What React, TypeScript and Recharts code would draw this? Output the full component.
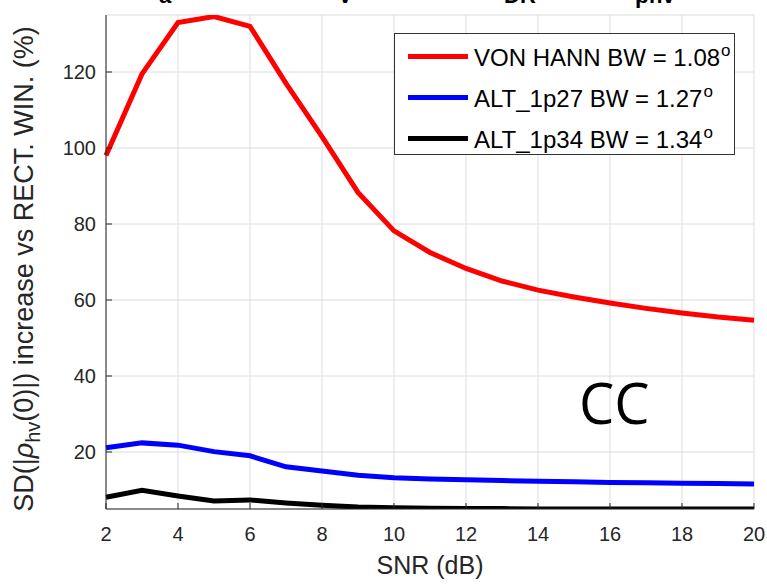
import React from "react";
import {
  LineChart,
  Line,
  XAxis,
  YAxis,
  CartesianGrid,
} from "recharts";

const snr = [2, 3, 4, 5, 6, 7, 8, 9, 10, 11, 12, 13, 14, 15, 16, 17, 18, 19, 20];
const vonHann = [98, 119.5, 133, 134.6, 132, 117, 103, 88.3, 78.2, 72.5, 68.3, 65, 62.6, 60.8, 59.2, 57.8, 56.6, 55.5, 54.7];
const alt1p27 = [21.1, 22.4, 21.8, 20.1, 19, 16.1, 15, 13.9, 13.2, 12.9, 12.7, 12.5, 12.3, 12.2, 12.0, 11.9, 11.8, 11.7, 11.6];
const alt1p34 = [8.1, 9.9, 8.4, 7.1, 7.4, 6.6, 6.0, 5.5, 5.3, 5.2, 5.1, 5.1, 5.0, 5.0, 5.0, 5.0, 5.0, 5.0, 5.0];

const xTicks = [2, 4, 6, 8, 10, 12, 14, 16, 18, 20];
const yTicks = [20, 40, 60, 80, 100, 120];
const topLabels = [
  { x: 165, text: "a" },
  { x: 345, text: "V" },
  { x: 520, text: "DR" },
  { x: 655, text: "ρhv" },
];

const seriesInfo = [
  { key: "vonHann", name: "VON HANN BW = 1.08", color: "#ff0000" },
  { key: "alt1p27", name: "ALT_1p27 BW = 1.27", color: "#0000ff" },
  { key: "alt1p34", name: "ALT_1p34 BW = 1.34", color: "#000000" },
];

const data = snr.map((s, i) => ({
  snr: s,
  vonHann: vonHann[i],
  alt1p27: alt1p27[i],
  alt1p34: alt1p34[i],
}));

const font = "Arial, 'Liberation Sans', Helvetica, sans-serif";
const tickStyle = { fill: "#262626", fontSize: 20, fontFamily: font };

function LegendBox() {
  return (
    <div
      style={{
        position: "absolute",
        left: 394,
        top: 33,
        width: 341,
        height: 122,
        boxSizing: "border-box",
        border: "1px solid #333",
        background: "#fff",
        padding: "2px 0 0 13px",
        fontFamily: font,
        fontSize: 24,
        color: "#000",
      }}
    >
      {seriesInfo.map((s) => (
        <div
          key={s.key}
          style={{ display: "flex", alignItems: "center", height: 41 }}
        >
          <div
            style={{
              width: 60,
              height: 5,
              background: s.color,
              marginRight: 6,
            }}
          />
          <span style={{ whiteSpace: "nowrap" }}>
            {s.name}
            <span style={{ fontSize: 17, verticalAlign: 10, marginLeft: 1 }}>o</span>
          </span>
        </div>
      ))}
    </div>
  );
}

function YLabel() {
  return (
    <text
      transform="translate(33, 269) rotate(-90)"
      textAnchor="middle"
      fontFamily={font}
      fontSize={27}
      fill="#262626"
    >
      SD(|
      <tspan fontStyle="italic">ρ</tspan>
      <tspan fontSize={20} dy={7}>hv</tspan>
      <tspan dy={-7}>(0)|) increase vs RECT. WIN. (%)</tspan>
    </text>
  );
}

export default function App() {
  return (
    <div
      style={{
        position: "absolute",
        left: 0,
        top: 0,
        width: 767,
        height: 584,
        background: "#fff",
        overflow: "hidden",
      }}
    >
      <LineChart
        width={767}
        height={584}
        data={data}
        margin={{ top: 15, right: 13, bottom: 45, left: 46 }}
      >
        <CartesianGrid stroke="#dcdcdc" strokeWidth={1} />
        <XAxis
          dataKey="snr"
          type="number"
          domain={[2, 20]}
          ticks={xTicks}
          tick={tickStyle}
          tickSize={-6}
          tickMargin={24}
          height={30}
          tickLine={{ stroke: "#262626" }}
          axisLine={{ stroke: "#262626" }}
          label={{
            value: "SNR (dB)",
            position: "insideBottom",
            offset: -35,
            fill: "#262626",
            fontSize: 25,
            fontFamily: font,
          }}
        />
        <XAxis
          xAxisId="top"
          orientation="top"
          dataKey="snr"
          type="number"
          domain={[2, 20]}
          ticks={xTicks}
          tick={false}
          tickSize={-6}
          tickLine={{ stroke: "#262626" }}
          axisLine={{ stroke: "#262626" }}
          height={0}
        />
        <YAxis
          type="number"
          domain={[5, 135]}
          ticks={yTicks}
          allowDataOverflow
          tick={tickStyle}
          tickSize={-6}
          tickMargin={16}
          width={60}
          tickLine={{ stroke: "#262626" }}
          axisLine={{ stroke: "#262626" }}
          label={<YLabel />}
        />
        <YAxis
          yAxisId="right"
          orientation="right"
          type="number"
          domain={[5, 135]}
          ticks={yTicks}
          tick={false}
          tickSize={-6}
          width={0}
          tickLine={{ stroke: "#262626" }}
          axisLine={{ stroke: "#262626" }}
        />
        {seriesInfo.map((s) => (
          <Line
            key={s.key}
            type="linear"
            dataKey={s.key}
            name={s.name}
            stroke={s.color}
            strokeWidth={5}
            dot={false}
            isAnimationActive={false}
          />
        ))}
      </LineChart>
      <LegendBox />
      {topLabels.map((t) => (
        <div
          key={t.text}
          style={{
            position: "absolute",
            left: t.x,
            top: -17,
            transform: "translateX(-50%)",
            fontFamily: font,
            fontWeight: "bold",
            fontSize: 22,
            color: "#000",
          }}
        >
          {t.text}
        </div>
      ))}
      <div
        style={{
          position: "absolute",
          left: 579,
          top: 371,
          fontFamily: "'Open Sans', 'Noto Sans', sans-serif",
          fontSize: 56,
          lineHeight: "62px",
          color: "#000",
        }}
      >
        CC
      </div>
    </div>
  );
}
